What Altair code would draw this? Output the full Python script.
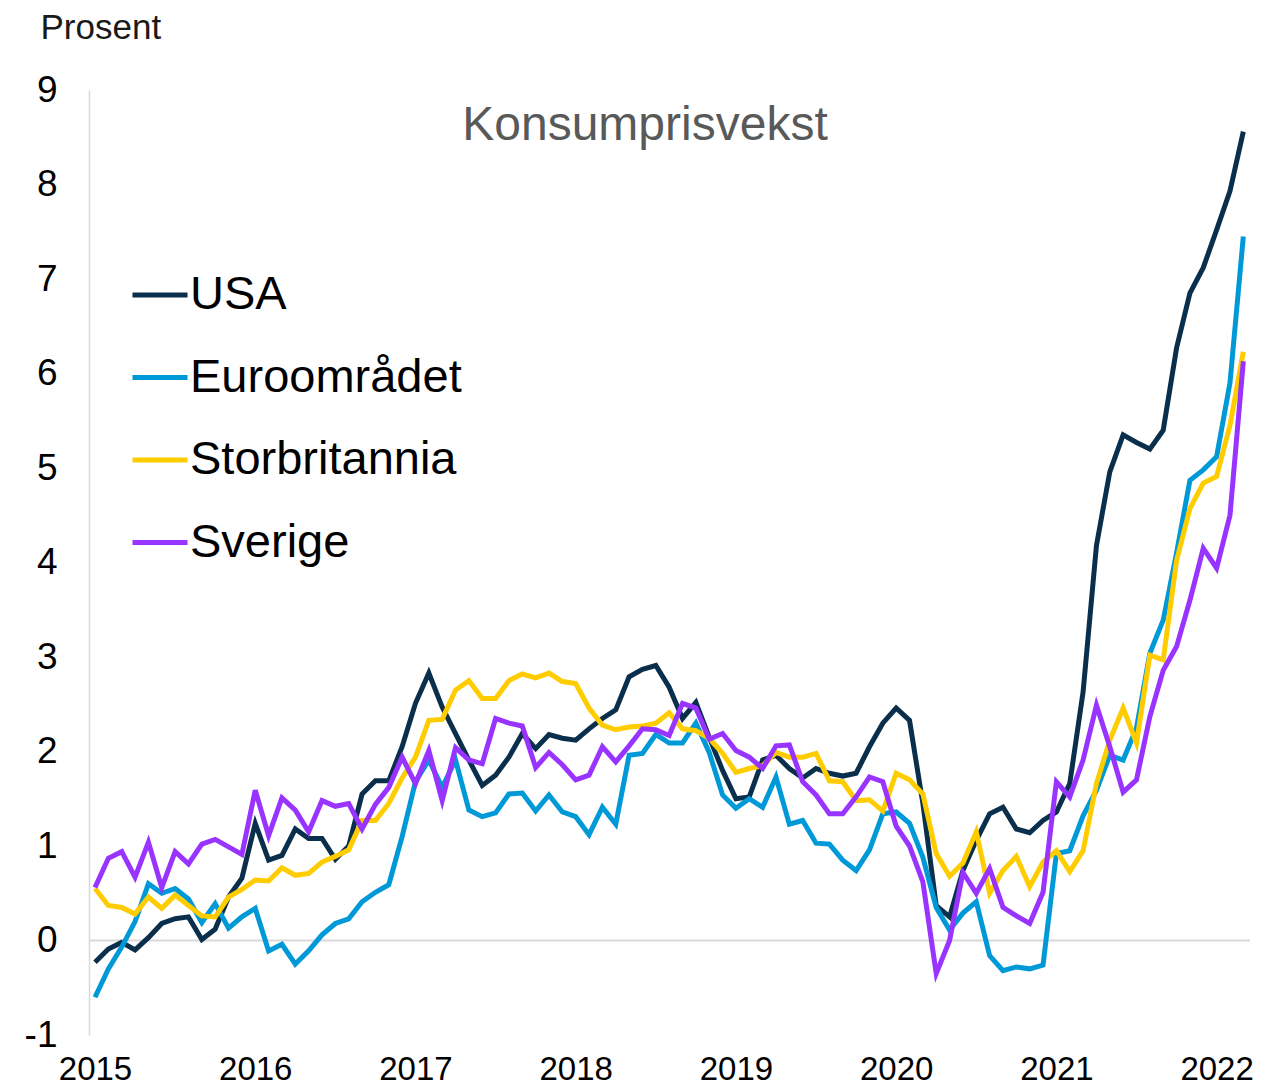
import altair as alt
import pandas as pd

series_names = ["USA", "Euroområdet", "Storbritannia", "Sverige"]
series_colors = ["#0a2f4d", "#0099d8", "#ffcc00", "#9933ff"]

start_year = 2015
year_ticks = [0, 12, 24, 36, 48, 60, 72, 84]
y_ticks = [-1, 0, 1, 2, 3, 4, 5, 6, 7, 8, 9]

usa = [-0.23, -0.09, -0.02, -0.10, 0.03, 0.18, 0.23, 0.25, 0.01, 0.12, 0.46, 0.66,
       1.24, 0.85, 0.90, 1.18, 1.08, 1.08, 0.86, 1.00, 1.55, 1.69, 1.69, 2.05,
       2.51, 2.83, 2.47, 2.19, 1.91, 1.64, 1.75, 1.94, 2.19, 2.03, 2.18, 2.14,
       2.12, 2.24, 2.35, 2.44, 2.79, 2.87, 2.91, 2.68, 2.35, 2.52, 2.15, 1.80,
       1.50, 1.52, 1.91, 1.96, 1.82, 1.72, 1.82, 1.77, 1.74, 1.77, 2.05, 2.30,
       2.46, 2.33, 1.45, 0.37, 0.25, 0.74, 1.06, 1.34, 1.41, 1.18, 1.14, 1.27,
       1.36, 1.66, 2.63, 4.18, 4.96, 5.35, 5.27, 5.20, 5.40, 6.27, 6.85, 7.12,
       7.52, 7.93, 8.56]

euro = [-0.60, -0.30, -0.07, 0.20, 0.60, 0.50, 0.55, 0.44, 0.19, 0.39, 0.13, 0.25,
        0.34, -0.11, -0.04, -0.25, -0.11, 0.06, 0.18, 0.23, 0.41, 0.51, 0.59, 1.10,
        1.68, 1.91, 1.62, 1.91, 1.38, 1.31, 1.35, 1.55, 1.56, 1.37, 1.54, 1.36,
        1.31, 1.12, 1.41, 1.23, 1.96, 1.98, 2.18, 2.09, 2.09, 2.30, 1.99, 1.54,
        1.40, 1.50, 1.41, 1.73, 1.23, 1.27, 1.03, 1.02, 0.85, 0.74, 0.96, 1.34,
        1.36, 1.24, 0.88, 0.35, 0.11, 0.29, 0.41, -0.16, -0.32, -0.28, -0.30, -0.26,
        0.92, 0.95, 1.32, 1.59, 1.96, 1.91, 2.25, 3.04, 3.39, 4.10, 4.87, 4.98,
        5.12, 5.90, 7.45]

uk = [0.55, 0.37, 0.35, 0.28, 0.46, 0.34, 0.48, 0.37, 0.26, 0.25, 0.46, 0.54,
      0.64, 0.63, 0.77, 0.69, 0.71, 0.83, 0.89, 0.96, 1.27, 1.27, 1.45, 1.72,
      1.94, 2.33, 2.34, 2.65, 2.75, 2.56, 2.56, 2.75, 2.82, 2.78, 2.83, 2.74,
      2.72, 2.46, 2.28, 2.23, 2.26, 2.27, 2.30, 2.41, 2.24, 2.22, 2.14, 1.98,
      1.78, 1.82, 1.85, 1.99, 1.94, 1.94, 1.98, 1.69, 1.68, 1.48, 1.49, 1.37,
      1.77, 1.70, 1.55, 0.92, 0.68, 0.82, 1.15, 0.50, 0.74, 0.89, 0.57, 0.83,
      0.95, 0.73, 0.95, 1.66, 2.12, 2.46, 2.09, 3.02, 2.97, 4.02, 4.57, 4.84,
      4.91, 5.45, 6.23]

sverige = [0.56, 0.87, 0.94, 0.67, 1.04, 0.56, 0.94, 0.81, 1.02, 1.07, 0.99, 0.91,
           1.59, 1.11, 1.51, 1.38, 1.15, 1.48, 1.42, 1.45, 1.18, 1.44, 1.62, 1.94,
           1.66, 2.01, 1.48, 2.04, 1.91, 1.87, 2.35, 2.30, 2.27, 1.83, 1.99, 1.86,
           1.70, 1.75, 2.05, 1.89, 2.06, 2.24, 2.23, 2.17, 2.51, 2.46, 2.13, 2.19,
           2.01, 1.94, 1.82, 2.06, 2.07, 1.68, 1.54, 1.34, 1.34, 1.52, 1.73, 1.68,
           1.21, 1.00, 0.62, -0.35, 0.00, 0.72, 0.50, 0.76, 0.35, 0.26, 0.18, 0.51,
           1.68, 1.52, 1.91, 2.49, 2.05, 1.57, 1.70, 2.37, 2.86, 3.11, 3.60, 4.15,
           3.94, 4.50, 6.13]

rows = []
for name, vals in zip(series_names, [usa, euro, uk, sverige]):
    for i, v in enumerate(vals):
        rows.append({"m": i, "value": v, "serie": name, "ord": series_names.index(name)})
df = pd.DataFrame(rows)

FONT = "Liberation Sans"

x_scale = alt.Scale(domain=[-0.45, 86.5], nice=False, zero=False)
y_scale = alt.Scale(domain=[-1, 9], nice=False)

zero_rule = alt.Chart(pd.DataFrame({"z": [0]})).mark_rule(
    color="#d9d9d9", strokeWidth=2
).encode(y=alt.Y("z:Q", scale=y_scale))

lines = alt.Chart(df).mark_line(strokeWidth=5, strokeJoin="miter", strokeCap="butt").encode(
    x=alt.X("m:Q", scale=x_scale,
            axis=alt.Axis(values=year_ticks, labelExpr=f"'' + ({start_year} + datum.value/12)",
                          domain=False, ticks=False, tickSize=0, grid=False,
                          labelFontSize=33, labelFont=FONT, labelColor="black",
                          labelPadding=18, title=None, labelFlush=False)),
    y=alt.Y("value:Q", scale=y_scale,
            axis=alt.Axis(values=y_ticks, labelExpr="'' + datum.value", domain=True,
                          domainColor="#d9d9d9", domainWidth=1.5, ticks=False,
                          tickSize=0, grid=False,
                          labelFontSize=37, labelFont=FONT, labelColor="black",
                          labelPadding=32, title="Prosent", titleAngle=0,
                          titleAlign="left", titleBaseline="middle",
                          titleX=-49, titleY=-63, titleFont=FONT, titleFontSize=35,
                          titleFontWeight="normal", titleColor="#1a1a1a")),
    color=alt.Color("serie:N",
                    scale=alt.Scale(domain=series_names, range=series_colors),
                    legend=alt.Legend(orient="none", legendX=41, legendY=175, title=None,
                                      symbolType="stroke", symbolSize=3025,
                                      symbolStrokeWidth=5, labelFontSize=47,
                                      labelFont=FONT, labelColor="black",
                                      labelOffset=0, rowPadding=29.5, labelLimit=0)),
    detail="serie:N",
    order=alt.Order("ord:Q"),
)

title_txt = alt.Chart(pd.DataFrame({"t": ["Konsumprisvekst"]})).mark_text(
    font=FONT, fontSize=48, color="#595959", align="center", baseline="middle"
).encode(text="t:N", x=alt.value(556), y=alt.value(36))

chart = alt.layer(zero_rule, lines, title_txt).properties(
    width=1161, height=945,
    autosize=alt.AutoSizeParams(type="none"),
    padding={"left": 81, "top": 82, "right": 4, "bottom": 50},
).configure(font=FONT).configure_view(strokeWidth=0, stroke=None)

chart.save("out.html", embed_options={"renderer": "svg", "actions": False})
